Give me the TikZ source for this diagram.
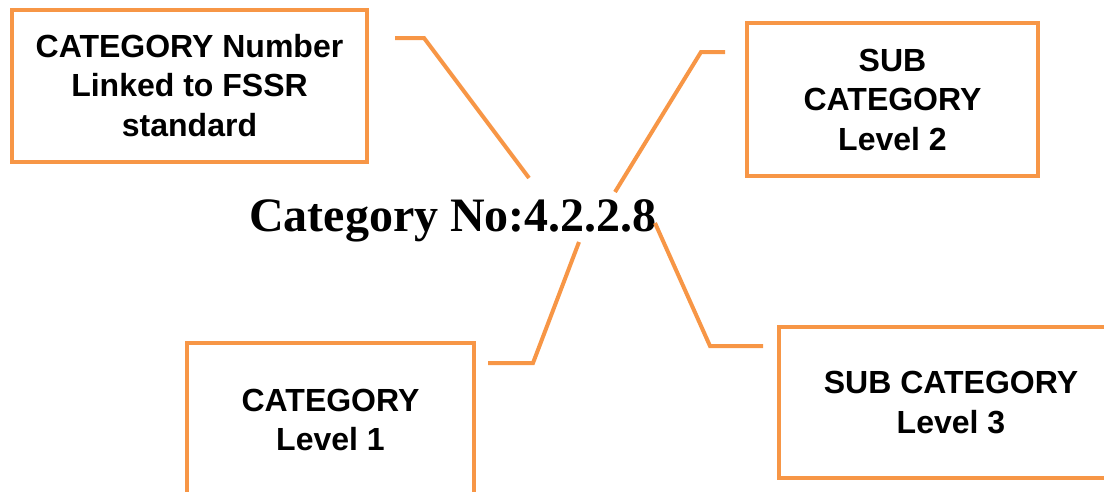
\documentclass[tikz,border=0pt]{standalone}
\usepackage{fontspec}
\setmainfont{Liberation Serif}
\newfontfamily\boxfont{Liberation Sans}
\usepackage{tikz}
\usepackage{xcolor}
\usetikzlibrary{arrows.meta, positioning, calc}

\definecolor{catorange}{HTML}{F79646}

\begin{document}
\begin{tikzpicture}[x=1pt, y=-1pt,
    catbox/.style={draw=catorange, line width=4pt, fill=white, inner sep=0pt, align=center,
        font=\boxfont\bfseries\fontsize{32}{39.5}\selectfont},
    link/.style={draw=catorange, line width=4pt}]
    \useasboundingbox (0,0) rectangle (1104,491);
    \clip (0,0) rectangle (1104,491);

    \node[catbox, minimum width=355pt, minimum height=152pt] (fssr) at (189.5,85.5)
        {CATEGORY Number\\Linked to FSSR\\standard};
    \node[catbox, minimum width=291pt, minimum height=153pt] (lvltwo) at (892.5,99.5)
        {SUB\\CATEGORY\\Level 2};
    \node[catbox, minimum width=287pt, minimum height=154pt] (lvlone) at (330.5,420)
        {CATEGORY\\Level 1};
    \node[catbox, minimum width=344pt, minimum height=151pt] (lvlthree) at (951,402.5)
        {SUB CATEGORY\\Level 3};

    \node[anchor=base, inner sep=0pt, font=\bfseries\fontsize{48}{58}\selectfont] (catno) at (453,231)
        {Category No:4.2.2.8};

    \coordinate (fssrEnd) at (395,38);
    \coordinate (fssrBend) at (424,38);
    \coordinate (fssrTip) at (529,178);
    \coordinate (twoEnd) at (725,52);
    \coordinate (twoBend) at (701,52);
    \coordinate (twoTip) at (615,192);
    \coordinate (oneEnd) at (488,363);
    \coordinate (oneBend) at (533,363);
    \coordinate (oneTip) at (579,242);
    \coordinate (threeTip) at (655,223);
    \coordinate (threeBend) at (710,346);
    \coordinate (threeEnd) at (763,346);

    \draw[link] (fssrEnd) -- (fssrBend) -- (fssrTip);
    \draw[link] (twoEnd) -- (twoBend) -- (twoTip);
    \draw[link] (oneEnd) -- (oneBend) -- (oneTip);
    \draw[link] (threeTip) -- (threeBend) -- (threeEnd);
\end{tikzpicture}
\end{document}
